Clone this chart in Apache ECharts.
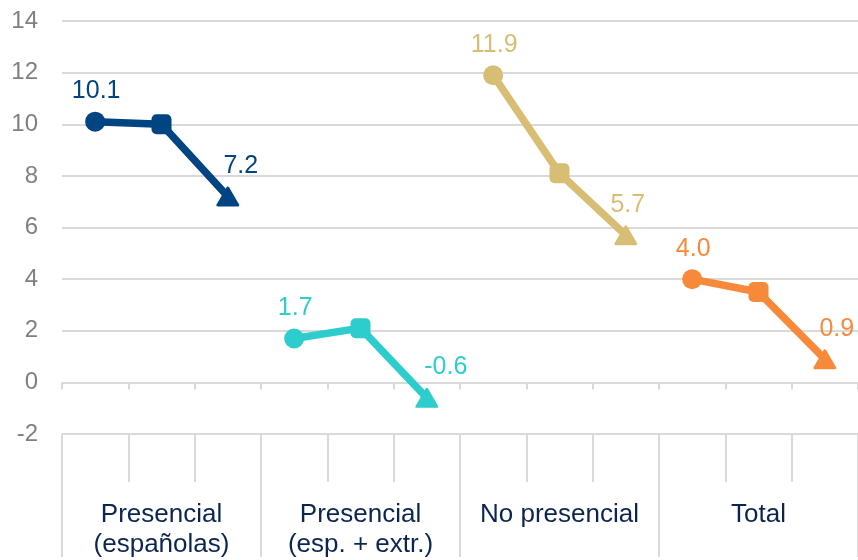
<!DOCTYPE html>
<html>
<head>
<meta charset="utf-8">
<style>
  html, body { margin: 0; padding: 0; background: #ffffff; }
  #chart { width: 858px; height: 560px; }
</style>
<script src="https://cdn.jsdelivr.net/npm/echarts@6/dist/echarts.min.js"></script>
</head>
<body>
<div id="chart"></div>
<script>
// Slots along the x axis: three per group
const slots = ['', '', '', '', '', '', '', '', '', '', '', ''];
const groups = ['Presencial\n(españolas)', 'Presencial\n(esp. + extr.)', 'No presencial', 'Total'];

// Values per group (three points each)
const presencialEsp = [10.1, 10.0, 7.2];
const presencialTotal = [1.7, 2.1, -0.6];
const noPresencial = [11.9, 8.1, 5.7];
const total = [4.0, 3.5, 0.9];

const yTicks = { min: -2, max: 14, interval: 2 };

const colors = ['#004481', '#2DCCCD', '#D8BE75', '#F7893B'];
// rounded triangle used for the last point of each group
const roundTriangle = 'path://M44,6 Q50,-3 56,6 L98,82 Q103,92 92,92 L8,92 Q-3,92 2,82 Z';
const symbols = ['circle', 'roundRect', roundTriangle];
const symbolSizes = [20, 20, [23, 20]];
// horizontal nudge of the end label of each group
const endLabelDx = [13, 19, 2, 12];

const font = '"Liberation Sans", Arial, sans-serif';
const gridColor = '#d9d9d9';

function buildSeries(values, groupIndex) {
  const data = slots.map(() => '-');
  values.forEach((v, i) => {
    const item = {
      value: v,
      symbol: symbols[i],
      symbolSize: symbolSizes[i]
    };
    if (i === 0 || i === 2) {
      item.label = {
        show: true,
        position: 'top',
        distance: 8,
        offset: [i === 2 ? endLabelDx[groupIndex] : 1, 0],
        formatter: (p) => p.value.toFixed(1)
      };
    }
    data[groupIndex * 3 + i] = item;
  });
  return {
    type: 'line',
    xAxisIndex: 0,
    data: data,
    connectNulls: false,
    lineStyle: { color: colors[groupIndex], width: 7.5, join: 'round', cap: 'round' },
    itemStyle: { color: colors[groupIndex] },
    label: { color: colors[groupIndex], fontSize: 25, fontFamily: font },
    emphasis: { disabled: true },
    z: 3
  };
}

const chart = echarts.init(document.getElementById('chart'), null, { renderer: 'canvas' });

chart.setOption({
  animation: false,
  backgroundColor: '#ffffff',
  grid: { left: 62, right: 0, top: 21, bottom: 123, containLabel: false },
  xAxis: [
    {
      type: 'category',
      data: slots,
      boundaryGap: true,
      axisLine: { onZero: true, lineStyle: { color: gridColor, width: 2 } },
      axisTick: { show: true, length: 7, lineStyle: { color: gridColor, width: 2 } },
      axisLabel: { show: false },
      splitLine: { show: false }
    },
    {
      type: 'category',
      data: slots,
      position: 'bottom',
      boundaryGap: true,
      axisLine: { show: false, onZero: false },
      axisTick: { show: true, length: 48, lineStyle: { color: gridColor, width: 2 } },
      axisLabel: { show: false },
      splitLine: { show: false }
    },
    {
      type: 'category',
      data: groups,
      position: 'bottom',
      boundaryGap: true,
      axisLine: { show: false, onZero: false },
      axisTick: { show: true, length: 123, lineStyle: { color: gridColor, width: 2 } },
      axisLabel: {
        show: true,
        interval: 0,
        margin: 66,
        color: '#0b2550',
        fontSize: 26,
        lineHeight: 30,
        fontFamily: font
      },
      splitLine: { show: false }
    }
  ],
  yAxis: {
    type: 'value',
    min: yTicks.min,
    max: yTicks.max,
    interval: yTicks.interval,
    axisLine: { show: false },
    axisTick: { show: false },
    axisLabel: { color: '#808080', fontSize: 24, fontFamily: font, margin: 24 },
    splitLine: { show: true, lineStyle: { color: gridColor, width: 2 } }
  },
  series: [
    buildSeries(presencialEsp, 0),
    buildSeries(presencialTotal, 1),
    buildSeries(noPresencial, 2),
    buildSeries(total, 3)
  ]
});
</script>
</body>
</html>
